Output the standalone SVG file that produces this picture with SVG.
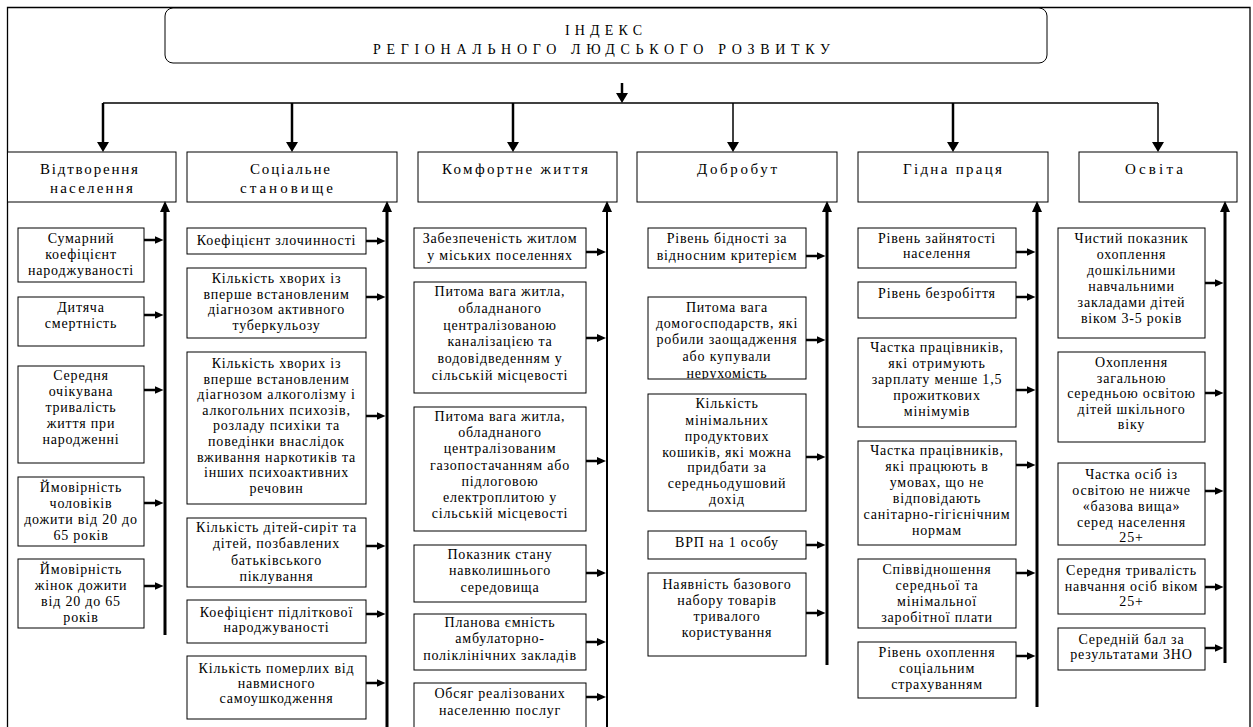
<svg xmlns="http://www.w3.org/2000/svg" width="1253" height="727" viewBox="0 0 1253 727">
  <style>
    .frame { fill: none; stroke: #000; stroke-width: 1.3; }
    .box { fill: #fff; stroke: #000; stroke-width: 1; }
    .t { font-family: "Liberation Serif", "Times New Roman", serif; font-size: 14px; letter-spacing: 0.8px; text-anchor: middle; fill: #000; }
    .h { font-family: "Liberation Serif", "Times New Roman", serif; font-size: 15px; fill: #000; }
    .ttl { font-family: "Liberation Serif", "Times New Roman", serif; font-size: 14px; fill: #000; }
    .bus { fill: none; stroke: #000; stroke-width: 1.3; }
    .drop { fill: none; stroke: #000; stroke-width: 2.5; marker-end: url(#ad); }
    .drop.thin { stroke-width: 1.5; }
    .bar { fill: none; stroke: #000; stroke-width: 3; marker-end: url(#au); }
    .bar.thin { stroke-width: 2; }
    .arr { fill: none; stroke: #000; stroke-width: 2.5; marker-end: url(#ah); }
  </style>
  <defs>
    <marker id="ah" markerUnits="userSpaceOnUse" markerWidth="10" markerHeight="8" refX="3" refY="4" orient="auto">
      <path d="M0,0 L9,4 L0,8 z" fill="#000"/>
    </marker>
    <marker id="ad" markerUnits="userSpaceOnUse" markerWidth="11" markerHeight="12" refX="4" refY="6" orient="auto">
      <path d="M0,0 L10,6 L0,12 z" fill="#000"/>
    </marker>
    <marker id="au" markerUnits="userSpaceOnUse" markerWidth="12" markerHeight="10" refX="4" refY="5" orient="auto">
      <path d="M0,0 L11,5 L0,10 z" fill="#000"/>
    </marker>
    <clipPath id="clip-n4-2">
      <rect x="648" y="297" width="158" height="82"/>
    </clipPath>
  </defs>

  <rect width="1253" height="727" fill="#fff"/>

  <!-- outer frame -->
  <path class="frame" d="M7.5,740 V7.5 H1250 V740"/>

  <!-- root -->
  <g id="root">
    <rect class="box" x="165" y="8" width="882" height="55" rx="8"/>
    <text class="ttl" x="565" y="35" textLength="77" lengthAdjust="spacing">ІНДЕКС</text>
    <text class="ttl" x="373" y="53.5" textLength="457" lengthAdjust="spacing">РЕГІОНАЛЬНОГО ЛЮДСЬКОГО РОЗВИТКУ</text>
  </g>

  <!-- category headers -->
  <g id="cat-population">
    <rect class="box" x="7.5" y="152" width="168.5" height="50"/>
    <text class="h" x="40" y="174" textLength="98" lengthAdjust="spacing">Відтворення</text>
    <text class="h" x="50" y="193" textLength="83" lengthAdjust="spacing">населення</text>
  </g>
  <g id="cat-social">
    <rect class="box" x="187" y="152" width="210" height="50"/>
    <text class="h" x="250" y="174" textLength="80" lengthAdjust="spacing">Соціальне</text>
    <text class="h" x="240" y="193" textLength="93" lengthAdjust="spacing">становище</text>
  </g>
  <g id="cat-comfort">
    <rect class="box" x="418" y="152" width="199" height="50"/>
    <text class="h" x="442" y="174" textLength="146" lengthAdjust="spacing">Комфортне життя</text>
  </g>
  <g id="cat-welfare">
    <rect class="box" x="637" y="152" width="200" height="50"/>
    <text class="h" x="697" y="174" textLength="80" lengthAdjust="spacing">Добробут</text>
  </g>
  <g id="cat-work">
    <rect class="box" x="858" y="152" width="190" height="50"/>
    <text class="h" x="903" y="174" textLength="99" lengthAdjust="spacing">Гідна праця</text>
  </g>
  <g id="cat-education">
    <rect class="box" x="1079" y="152" width="158" height="50"/>
    <text class="h" x="1125" y="174" textLength="58" lengthAdjust="spacing">Освіта</text>
  </g>

  <!-- indicators: population -->
  <g id="n1-1">
    <rect class="box" x="18" y="228" width="126" height="54"/>
    <text class="t"><tspan x="81" y="243">Сумарний</tspan><tspan x="81" y="259">коефіцієнт</tspan><tspan x="81" y="275">народжуваності</tspan></text>
  </g>
  <g id="n1-2">
    <rect class="box" x="18" y="297" width="126" height="49"/>
    <text class="t"><tspan x="81" y="312">Дитяча</tspan><tspan x="81" y="328">смертність</tspan></text>
  </g>
  <g id="n1-3">
    <rect class="box" x="18" y="366" width="126" height="97"/>
    <text class="t"><tspan x="81" y="380">Середня</tspan><tspan x="81" y="396">очікувана</tspan><tspan x="81" y="412">тривалість</tspan><tspan x="81" y="428">життя при</tspan><tspan x="81" y="444">народженні</tspan></text>
  </g>
  <g id="n1-4">
    <rect class="box" x="18" y="477" width="126" height="69"/>
    <text class="t"><tspan x="81" y="492">Ймовірність</tspan><tspan x="81" y="508">чоловіків</tspan><tspan x="81" y="524">дожити від 20 до</tspan><tspan x="81" y="540">65 років</tspan></text>
  </g>
  <g id="n1-5">
    <rect class="box" x="18" y="559" width="126" height="69"/>
    <text class="t"><tspan x="81" y="574">Ймовірність</tspan><tspan x="81" y="590">жінок дожити</tspan><tspan x="81" y="606">від 20 до 65</tspan><tspan x="81" y="622">років</tspan></text>
  </g>

  <!-- indicators: social -->
  <g id="n2-1">
    <rect class="box" x="187" y="228" width="179" height="26"/>
    <text class="t"><tspan x="276.5" y="245">Коефіцієнт злочинності</tspan></text>
  </g>
  <g id="n2-2">
    <rect class="box" x="187" y="268" width="179" height="70"/>
    <text class="t"><tspan x="276.5" y="283">Кількість хворих із</tspan><tspan x="276.5" y="299">вперше встановленим</tspan><tspan x="276.5" y="314">діагнозом активного</tspan><tspan x="276.5" y="330">туберкульозу</tspan></text>
  </g>
  <g id="n2-3">
    <rect class="box" x="187" y="352" width="179" height="152"/>
    <text class="t"><tspan x="276.5" y="368">Кількість хворих із</tspan><tspan x="276.5" y="383.6">вперше встановленим</tspan><tspan x="276.5" y="399.2">діагнозом алкоголізму і</tspan><tspan x="276.5" y="414.8">алкогольних психозів,</tspan><tspan x="276.5" y="430.4">розладу психіки та</tspan><tspan x="276.5" y="446">поведінки внаслідок</tspan><tspan x="276.5" y="461.6">вживання наркотиків та</tspan><tspan x="276.5" y="477.2">інших психоактивних</tspan><tspan x="276.5" y="492.8">речовин</tspan></text>
  </g>
  <g id="n2-4">
    <rect class="box" x="187" y="518" width="179" height="69"/>
    <text class="t"><tspan x="276.5" y="532">Кількість дітей-сиріт та</tspan><tspan x="276.5" y="548">дітей, позбавлених</tspan><tspan x="276.5" y="565">батьківського</tspan><tspan x="276.5" y="581">піклування</tspan></text>
  </g>
  <g id="n2-5">
    <rect class="box" x="187" y="600" width="179" height="43"/>
    <text class="t"><tspan x="276.5" y="617">Коефіцієнт підліткової</tspan><tspan x="276.5" y="632">народжуваності</tspan></text>
  </g>
  <g id="n2-6">
    <rect class="box" x="187" y="656" width="179" height="63"/>
    <text class="t"><tspan x="276.5" y="673">Кількість померлих від</tspan><tspan x="276.5" y="688">навмисного</tspan><tspan x="276.5" y="703">самоушкодження</tspan></text>
  </g>

  <!-- indicators: comfort -->
  <g id="n3-1">
    <rect class="box" x="414" y="228" width="172" height="40"/>
    <text class="t"><tspan x="500" y="243">Забезпеченість житлом</tspan><tspan x="500" y="260">у міських поселеннях</tspan></text>
  </g>
  <g id="n3-2">
    <rect class="box" x="414" y="282" width="172" height="111"/>
    <text class="t"><tspan x="500" y="296">Питома вага житла,</tspan><tspan x="500" y="313">обладнаного</tspan><tspan x="500" y="330">централізованою</tspan><tspan x="500" y="346">каналізацією та</tspan><tspan x="500" y="363">водовідведенням у</tspan><tspan x="500" y="380">сільській місцевості</tspan></text>
  </g>
  <g id="n3-3">
    <rect class="box" x="414" y="407" width="172" height="124"/>
    <text class="t"><tspan x="500" y="421">Питома вага житла,</tspan><tspan x="500" y="437">обладнаного</tspan><tspan x="500" y="453">централізованим</tspan><tspan x="500" y="470">газопостачанням або</tspan><tspan x="500" y="486">підлоговою</tspan><tspan x="500" y="502">електроплитою у</tspan><tspan x="500" y="518">сільській місцевості</tspan></text>
  </g>
  <g id="n3-4">
    <rect class="box" x="414" y="545" width="172" height="57"/>
    <text class="t"><tspan x="500" y="559">Показник стану</tspan><tspan x="500" y="575">навколишнього</tspan><tspan x="500" y="592">середовища</tspan></text>
  </g>
  <g id="n3-5">
    <rect class="box" x="414" y="614" width="172" height="56"/>
    <text class="t"><tspan x="500" y="627">Планова ємність</tspan><tspan x="500" y="643">амбулаторно-</tspan><tspan x="500" y="660">поліклінічних закладів</tspan></text>
  </g>
  <g id="n3-6">
    <rect class="box" x="414" y="683" width="172" height="50"/>
    <text class="t"><tspan x="500" y="698">Обсяг реалізованих</tspan><tspan x="500" y="715">населенню послуг</tspan></text>
  </g>

  <!-- indicators: welfare -->
  <g id="n4-1">
    <rect class="box" x="648" y="228" width="158" height="40"/>
    <text class="t"><tspan x="727" y="243">Рівень бідності за</tspan><tspan x="727" y="260">відносним критерієм</tspan></text>
  </g>
  <g id="n4-2">
    <rect class="box" x="648" y="297" width="158" height="82"/>
    <text class="t" clip-path="url(#clip-n4-2)"><tspan x="727" y="312">Питома вага</tspan><tspan x="727" y="328">домогосподарств, які</tspan><tspan x="727" y="344">робили заощадження</tspan><tspan x="727" y="361">або купували</tspan><tspan x="727" y="378">нерухомість</tspan></text>
  </g>
  <g id="n4-3">
    <rect class="box" x="648" y="394" width="158" height="117"/>
    <text class="t"><tspan x="727" y="408">Кількість</tspan><tspan x="727" y="425">мінімальних</tspan><tspan x="727" y="441">продуктових</tspan><tspan x="727" y="457">кошиків, які можна</tspan><tspan x="727" y="472">придбати за</tspan><tspan x="727" y="488">середньодушовий</tspan><tspan x="727" y="504">дохід</tspan></text>
  </g>
  <g id="n4-4">
    <rect class="box" x="648" y="531" width="158" height="28"/>
    <text class="t"><tspan x="727" y="547">ВРП на 1 особу</tspan></text>
  </g>
  <g id="n4-5">
    <rect class="box" x="648" y="573" width="158" height="83"/>
    <text class="t"><tspan x="727" y="589">Наявність базового</tspan><tspan x="727" y="605">набору товарів</tspan><tspan x="727" y="621">тривалого</tspan><tspan x="727" y="637">користування</tspan></text>
  </g>

  <!-- indicators: work -->
  <g id="n5-1">
    <rect class="box" x="858" y="228" width="158" height="40"/>
    <text class="t"><tspan x="937" y="243">Рівень зайнятості</tspan><tspan x="937" y="258">населення</tspan></text>
  </g>
  <g id="n5-2">
    <rect class="box" x="858" y="282" width="158" height="36"/>
    <text class="t"><tspan x="937" y="298">Рівень безробіття</tspan></text>
  </g>
  <g id="n5-3">
    <rect class="box" x="858" y="338" width="158" height="89"/>
    <text class="t"><tspan x="937" y="352">Частка працівників,</tspan><tspan x="937" y="368">які отримують</tspan><tspan x="937" y="384">зарплату менше 1,5</tspan><tspan x="937" y="400">прожиткових</tspan><tspan x="937" y="416">мінімумів</tspan></text>
  </g>
  <g id="n5-4">
    <rect class="box" x="858" y="441" width="158" height="104"/>
    <text class="t"><tspan x="937" y="455">Частка працівників,</tspan><tspan x="937" y="471">які працюють в</tspan><tspan x="937" y="487">умовах, що не</tspan><tspan x="937" y="503">відповідають</tspan><tspan x="937" y="519">санітарно-гігієнічним</tspan><tspan x="937" y="535">нормам</tspan></text>
  </g>
  <g id="n5-5">
    <rect class="box" x="858" y="559" width="158" height="69"/>
    <text class="t"><tspan x="937" y="574">Співвідношення</tspan><tspan x="937" y="590">середньої та</tspan><tspan x="937" y="606">мінімальної</tspan><tspan x="937" y="622">заробітної плати</tspan></text>
  </g>
  <g id="n5-6">
    <rect class="box" x="858" y="642" width="158" height="56"/>
    <text class="t"><tspan x="937" y="657">Рівень охоплення</tspan><tspan x="937" y="673">соціальним</tspan><tspan x="937" y="689">страхуванням</tspan></text>
  </g>

  <!-- indicators: education -->
  <g id="n6-1">
    <rect class="box" x="1058" y="228" width="147" height="110"/>
    <text class="t"><tspan x="1131.5" y="243">Чистий показник</tspan><tspan x="1131.5" y="259">охоплення</tspan><tspan x="1131.5" y="275">дошкільними</tspan><tspan x="1131.5" y="291">навчальними</tspan><tspan x="1131.5" y="307">закладами дітей</tspan><tspan x="1131.5" y="323">віком 3-5 років</tspan></text>
  </g>
  <g id="n6-2">
    <rect class="box" x="1058" y="352" width="147" height="90"/>
    <text class="t"><tspan x="1131.5" y="367">Охоплення</tspan><tspan x="1131.5" y="383">загальною</tspan><tspan x="1131.5" y="398">середньою освітою</tspan><tspan x="1131.5" y="414">дітей шкільного</tspan><tspan x="1131.5" y="429">віку</tspan></text>
  </g>
  <g id="n6-3">
    <rect class="box" x="1058" y="463" width="147" height="82"/>
    <text class="t"><tspan x="1131.5" y="479">Частка осіб із</tspan><tspan x="1131.5" y="495">освітою не нижче</tspan><tspan x="1131.5" y="511">«базова вища»</tspan><tspan x="1131.5" y="527">серед населення</tspan><tspan x="1131.5" y="542">25+</tspan></text>
  </g>
  <g id="n6-4">
    <rect class="box" x="1058" y="559" width="147" height="55"/>
    <text class="t"><tspan x="1131.5" y="575">Середня тривалість</tspan><tspan x="1131.5" y="591">навчання осіб віком</tspan><tspan x="1131.5" y="606">25+</tspan></text>
  </g>
  <g id="n6-5">
    <rect class="box" x="1058" y="628" width="147" height="42"/>
    <text class="t"><tspan x="1131.5" y="644">Середній бал за</tspan><tspan x="1131.5" y="659">результатами ЗНО</tspan></text>
  </g>

  <!-- connectors -->
  <g id="connectors">
    <!-- root to bus -->
    <line class="drop" x1="622" y1="83" x2="622" y2="97"/>
    <line class="bus" x1="103" y1="103" x2="1158" y2="103"/>
    <!-- bus to categories -->
    <line class="drop" x1="103" y1="103" x2="103" y2="146"/>
    <line class="drop" x1="292" y1="103" x2="292" y2="146"/>
    <line class="drop" x1="513" y1="103" x2="513" y2="146"/>
    <line class="drop thin" x1="733" y1="103" x2="733" y2="146"/>
    <line class="drop" x1="953" y1="103" x2="953" y2="146"/>
    <line class="drop thin" x1="1158" y1="103" x2="1158" y2="146"/>

    <!-- collector bars up into categories -->
    <line class="bar" x1="165" y1="635" x2="165" y2="208"/>
    <line class="bar" x1="387" y1="740" x2="387" y2="208"/>
    <line class="bar thin" x1="607" y1="740" x2="607" y2="208"/>
    <line class="bar" x1="827" y1="665" x2="827" y2="208"/>
    <line class="bar" x1="1037" y1="707" x2="1037" y2="208"/>
    <line class="bar" x1="1225" y1="663" x2="1225" y2="208"/>

    <!-- indicators to bars: population -->
    <line class="arr" x1="144" y1="240" x2="157.5" y2="240"/>
    <line class="arr" x1="144" y1="315" x2="157.5" y2="315"/>
    <line class="arr" x1="144" y1="390" x2="157.5" y2="390"/>
    <line class="arr" x1="144" y1="503" x2="157.5" y2="503"/>
    <line class="arr" x1="144" y1="586" x2="157.5" y2="586"/>
    <!-- social -->
    <line class="arr" x1="366" y1="241" x2="379.5" y2="241"/>
    <line class="arr" x1="366" y1="297" x2="379.5" y2="297"/>
    <line class="arr" x1="366" y1="416" x2="379.5" y2="416"/>
    <line class="arr" x1="366" y1="546" x2="379.5" y2="546"/>
    <line class="arr" x1="366" y1="614" x2="379.5" y2="614"/>
    <line class="arr" x1="366" y1="683" x2="379.5" y2="683"/>
    <!-- comfort -->
    <line class="arr" x1="586" y1="252" x2="600" y2="252"/>
    <line class="arr" x1="586" y1="338" x2="600" y2="338"/>
    <line class="arr" x1="586" y1="461" x2="600" y2="461"/>
    <line class="arr" x1="586" y1="573" x2="600" y2="573"/>
    <line class="arr" x1="586" y1="642" x2="600" y2="642"/>
    <line class="arr" x1="586" y1="697" x2="600" y2="697"/>
    <!-- welfare -->
    <line class="arr" x1="806" y1="256" x2="819.5" y2="256"/>
    <line class="arr" x1="806" y1="340" x2="819.5" y2="340"/>
    <line class="arr" x1="806" y1="457" x2="819.5" y2="457"/>
    <line class="arr" x1="806" y1="545" x2="819.5" y2="545"/>
    <line class="arr" x1="806" y1="613" x2="819.5" y2="613"/>
    <!-- work -->
    <line class="arr" x1="1016" y1="252" x2="1029.5" y2="252"/>
    <line class="arr" x1="1016" y1="297" x2="1029.5" y2="297"/>
    <line class="arr" x1="1016" y1="390" x2="1029.5" y2="390"/>
    <line class="arr" x1="1016" y1="465" x2="1029.5" y2="465"/>
    <line class="arr" x1="1016" y1="573" x2="1029.5" y2="573"/>
    <line class="arr" x1="1016" y1="656" x2="1029.5" y2="656"/>
    <!-- education -->
    <line class="arr" x1="1205" y1="283" x2="1217.5" y2="283"/>
    <line class="arr" x1="1205" y1="393" x2="1217.5" y2="393"/>
    <line class="arr" x1="1205" y1="491" x2="1217.5" y2="491"/>
    <line class="arr" x1="1205" y1="587" x2="1217.5" y2="587"/>
    <line class="arr" x1="1205" y1="648" x2="1217.5" y2="648"/>
  </g>
</svg>
